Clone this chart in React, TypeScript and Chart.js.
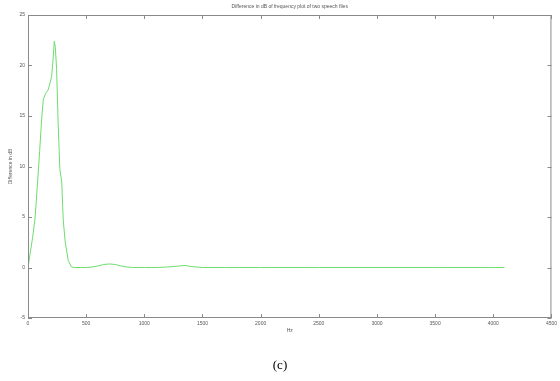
import React, { useEffect, useRef } from "react";
import { Chart, registerables } from "chart.js";

Chart.register(...registerables);

const chartTitle = "Difference in dB of frequency plot of two speech files";
const xAxisLabel = "Hz";
const yAxisLabel = "Difference in dB";
const caption = "(c)";

const freqHz = [
  0, 20, 40, 60, 80, 100, 117, 131, 150, 174, 190, 203, 215, 226, 235, 246, 260,
  274, 290, 303, 320, 346, 374, 400, 450, 500, 550, 600, 650, 700, 750, 800, 850,
  900, 1000, 1100, 1200, 1300, 1350, 1400, 1500, 1700, 2000, 2500, 3000, 3500,
  4000, 4096,
];
const diffDb = [
  0, 1.5, 3, 4.8, 8, 11.5, 14.6, 16.6, 17.2, 17.6, 18.3, 18.9, 20.5, 22.4, 21.8,
  19.6, 14, 9.7, 8.5, 4.7, 2.5, 0.7, 0.05, 0, 0, 0, 0.05, 0.15, 0.3, 0.35, 0.3,
  0.15, 0.05, 0, 0, 0, 0.05, 0.15, 0.2, 0.1, 0, 0, 0, 0, 0, 0, 0, 0,
];

const xMin = 0;
const xMax = 4500;
const xStep = 500;
const yMin = -5;
const yMax = 25;
const yStep = 5;

const boxPlugin = {
  id: "matlabBox",
  afterDraw(chart: any) {
    const { ctx, chartArea } = chart;
    const { left, right, top, bottom } = chartArea;
    const xs = chart.scales.x;
    const ys = chart.scales.y;
    ctx.save();
    ctx.strokeStyle = "#8a8a8a";
    ctx.lineWidth = 1;
    ctx.strokeRect(left + 0.5, top + 0.5, right - left - 1, bottom - top - 1);
    ctx.beginPath();
    const tl = 4;
    xs.ticks.forEach((t: any) => {
      const px = Math.round(xs.getPixelForValue(t.value)) + 0.5;
      ctx.moveTo(px, bottom);
      ctx.lineTo(px, bottom - tl);
      ctx.moveTo(px, top);
      ctx.lineTo(px, top + tl);
    });
    ys.ticks.forEach((t: any) => {
      const py = Math.round(ys.getPixelForValue(t.value)) + 0.5;
      ctx.moveTo(left, py);
      ctx.lineTo(left + tl, py);
      ctx.moveTo(right, py);
      ctx.lineTo(right - tl, py);
    });
    ctx.stroke();

    ctx.fillStyle = "#555";
    ctx.textAlign = "center";
    ctx.textBaseline = "middle";
    ctx.font = "5px 'Liberation Sans', Arial, sans-serif";
    ctx.fillText(chartTitle, (left + right) / 2, 7);
    ctx.fillText(xAxisLabel, (left + right) / 2, 331);
    ctx.save();
    ctx.translate(11, (top + bottom) / 2);
    ctx.rotate(-Math.PI / 2);
    ctx.fillText(yAxisLabel, 0, 0);
    ctx.restore();

    ctx.fillStyle = "#000";
    ctx.font = "13px 'Liberation Serif', 'Times New Roman', serif";
    ctx.fillText(caption, 280, 366);
    ctx.restore();
  },
};

export default function App() {
  const canvasRef = useRef<HTMLCanvasElement | null>(null);

  useEffect(() => {
    document.body.style.margin = "0";
    const canvas = canvasRef.current;
    if (!canvas) return;
    const points = freqHz.map((f, i) => ({ x: f, y: diffDb[i] }));
    const chart = new Chart(canvas, {
      type: "line",
      data: {
        datasets: [
          {
            data: points,
            borderColor: "rgb(110,220,110)",
            borderWidth: 1,
            pointRadius: 0,
            tension: 0,
            fill: false,
          },
        ],
      },
      options: {
        animation: false,
        responsive: false,
        devicePixelRatio: 1,
        layout: { padding: { left: 0, top: 15, right: 7, bottom: 0 } },
        plugins: {
          legend: { display: false },
          tooltip: { enabled: false },
          title: { display: false },
        },
        scales: {
          x: {
            type: "linear",
            min: xMin,
            max: xMax,
            grid: { display: false, drawTicks: false },
            border: { display: false },
            ticks: {
              stepSize: xStep,
              padding: 3,
              color: "#555",
              font: { size: 5, family: "'Liberation Sans', Arial, sans-serif" },
              maxRotation: 0,
              callback: (v: any) => String(v),
            },
            afterFit(scale: any) {
              scale.height = 63;
            },
          },
          y: {
            type: "linear",
            min: yMin,
            max: yMax,
            grid: { display: false, drawTicks: false },
            border: { display: false },
            ticks: {
              stepSize: yStep,
              padding: 3,
              color: "#555",
              font: { size: 5, family: "'Liberation Sans', Arial, sans-serif" },
              callback: (v: any) => String(v),
            },
            afterFit(scale: any) {
              scale.width = 28;
            },
          },
        },
      },
      plugins: [boxPlugin],
    });
    return () => chart.destroy();
  }, []);

  return (
    <div style={{ position: "absolute", left: 0, top: 0, width: 560, height: 381, background: "#fff" }}>
      <canvas ref={canvasRef} width={560} height={381} style={{ display: "block" }} />
    </div>
  );
}
